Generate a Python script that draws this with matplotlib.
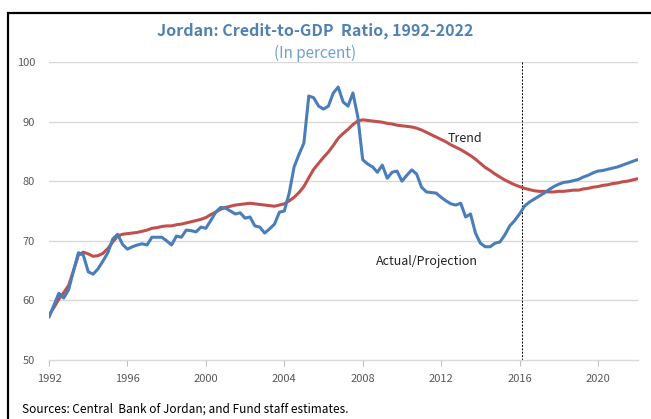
import numpy as np
import matplotlib
matplotlib.use("Agg")
import matplotlib.pyplot as plt
from matplotlib.patches import Rectangle

plt.rcParams['font.family'] = ['Noto Sans CJK KR', 'DejaVu Sans']

# quarterly, 1992Q1 .. 2022Q1
start_year = 1992
actual = [57.2, 59.2, 61.2, 60.4, 61.8, 65.0, 68.0, 67.6, 64.8, 64.4, 65.3, 66.6,
          68.0, 70.3, 71.1, 69.4, 68.6, 69.0, 69.3, 69.5, 69.3, 70.6, 70.6, 70.6,
          70.0, 69.3, 70.8, 70.6, 71.8, 71.7, 71.5, 72.3, 72.1, 73.4, 74.8, 75.6,
          75.5, 75.0, 74.5, 74.7, 73.8, 74.0, 72.5, 72.3, 71.3, 72.0, 72.8, 74.8,
          75.0, 78.0, 82.4, 84.5, 86.4, 94.3, 94.0, 92.6, 92.1, 92.6, 94.8, 95.8,
          93.3, 92.6, 94.8, 90.8, 83.6, 82.9, 82.4, 81.5, 82.7, 80.5, 81.5, 81.7,
          80.0, 81.0, 81.9, 81.2, 79.0, 78.2, 78.1, 78.0, 77.3, 76.7, 76.2, 76.0,
          76.3, 74.0, 74.5, 71.3, 69.6, 69.0, 69.0, 69.6, 69.8, 71.0, 72.5, 73.4,
          74.5, 75.8, 76.5, 77.0, 77.5, 78.0, 78.6, 79.1, 79.5, 79.8, 79.9, 80.1,
          80.3, 80.7, 81.0, 81.4, 81.7, 81.8, 82.0, 82.2, 82.4, 82.7, 83.0, 83.3,
          83.6]
trend = [57.5, 58.8, 60.2, 61.3, 62.5, 65.0, 67.6, 68.1, 67.8, 67.4, 67.5, 67.9,
         68.7, 69.8, 70.8, 71.1, 71.2, 71.3, 71.4, 71.6, 71.8, 72.1, 72.2, 72.4,
         72.5, 72.5, 72.7, 72.8, 73.0, 73.2, 73.4, 73.6, 73.9, 74.4, 74.8, 75.3,
         75.6, 75.8, 76.0, 76.1, 76.2, 76.3, 76.2, 76.1, 76.0, 75.9, 75.8, 76.0,
         76.2, 76.7, 77.3, 78.1, 79.1, 80.6, 82.0, 83.0, 84.0, 84.9, 86.0, 87.2,
         88.0, 88.7, 89.5, 90.1, 90.3, 90.2, 90.1, 90.0, 89.9, 89.7, 89.6, 89.4,
         89.3, 89.2, 89.1, 88.9, 88.6, 88.2, 87.8, 87.4, 87.0, 86.6, 86.1, 85.7,
         85.3, 84.8, 84.3, 83.7, 83.0, 82.3, 81.8, 81.2, 80.7, 80.2, 79.8, 79.4,
         79.1, 78.8, 78.6, 78.4, 78.3, 78.3, 78.2, 78.2, 78.3, 78.3, 78.4, 78.5,
         78.5, 78.7, 78.8, 79.0, 79.1, 79.3, 79.4, 79.6, 79.7, 79.9, 80.0, 80.2,
         80.4]
projection_start = 2016.1
xticks = [1992, 1996, 2000, 2004, 2008, 2012, 2016, 2020]
yticks = [50, 60, 70, 80, 90, 100]

t = start_year + np.arange(len(actual)) / 4.0

fig = plt.figure(figsize=(6.51, 4.19), dpi=100)
ax = fig.add_axes([0.0753, 0.1408, 0.905, 0.7112])

grey = '#595959'
for y in yticks[1:]:
    ax.axhline(y, color='#d9d9d9', lw=1.0, zorder=0)

ax.plot(t, trend, color='#c0504d', lw=2.2, solid_capstyle='round', zorder=3)
ax.plot(t, actual, color='#4a7ebb', lw=2.2, solid_capstyle='round', zorder=4)
ax.axvline(projection_start, color='black', lw=0.7, ls=(0, (2, 1.5)), zorder=2)

ax.set_xlim(1992, 2022.05)
ax.set_ylim(50, 100)
ax.set_xticks(xticks)
ax.set_yticks(yticks)
ax.tick_params(axis='x', colors=grey, labelsize=8, length=4, width=0.8, pad=6, color='#bfbfbf')
ax.tick_params(axis='y', colors=grey, labelsize=8, length=0, pad=10)
for s in ['left', 'right', 'top']:
    ax.spines[s].set_visible(False)
ax.spines['bottom'].set_color('#d9d9d9')
ax.spines['bottom'].set_linewidth(1.0)

ax.text(2013.2, 87.1, 'Trend', fontsize=9, color='#222222', ha='center', va='center')
ax.text(2011.3, 66.5, 'Actual/Projection', fontsize=9, color='#222222', ha='center', va='center')

title_c = '#4f81b3'
fig.text(315 / 651, 1 - 31 / 419, 'Jordan: Credit-to-GDP  Ratio, 1992-2022', fontsize=11.5,
         fontweight='bold', color=title_c, ha='center', va='center')
fig.text(315 / 651, 1 - 53 / 419, '(In percent)', fontsize=11, color='#6fa0d2',
         ha='center', va='center')
fig.text(22 / 651, 1 - 409 / 419, 'Sources: Central  Bank of Jordan; and Fund staff estimates.',
         fontsize=8.5, color='black', ha='left', va='center')

fig.patches.append(Rectangle((8 / 651, -0.05), 1.0, 1 - 13 / 419 + 0.05, transform=fig.transFigure,
                             fill=False, edgecolor='black', lw=1.6))

fig.savefig('out.png', dpi=100)
